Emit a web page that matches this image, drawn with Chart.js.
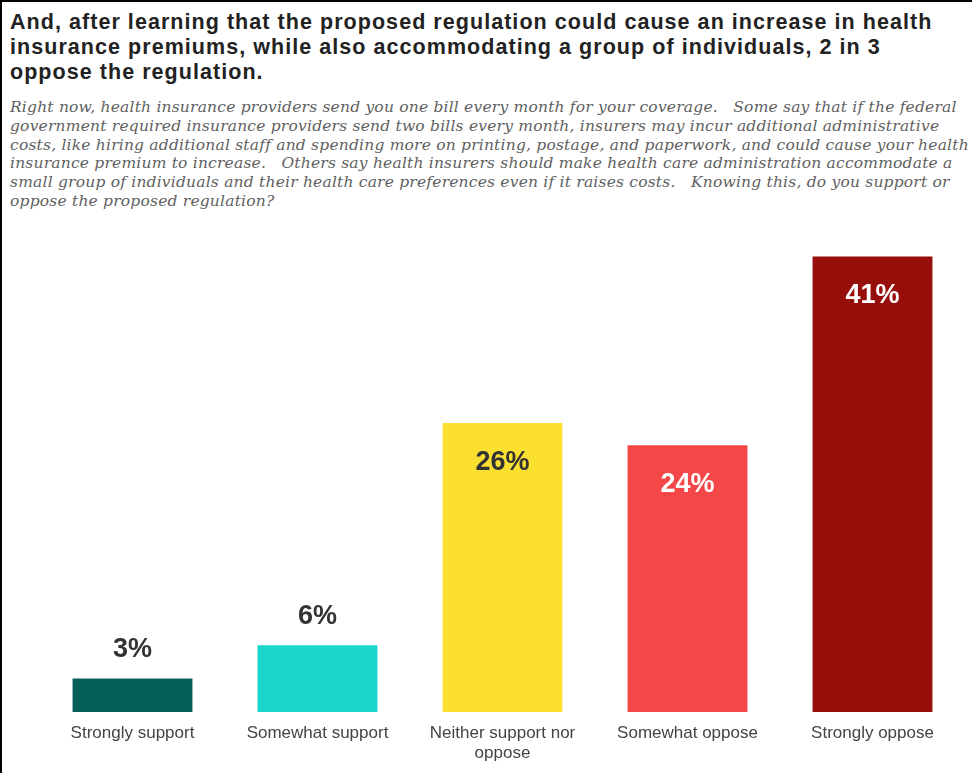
<!DOCTYPE html>
<html>
<head>
<meta charset="utf-8">
<script src="https://cdn.jsdelivr.net/npm/chart.js@4"></script>
<style>
  html, body { margin: 0; padding: 0; background: #fff; }
  #frame {
    position: relative; width: 972px; height: 773px; overflow: hidden;
    box-sizing: border-box; border-left: 2px solid #000; border-top: 2px solid #000;
  }
  #title {
    position: absolute; left: 8px; top: 8px; width: 962px; white-space: nowrap;
    font-family: "Liberation Sans", Arial, sans-serif; font-weight: bold;
    font-size: 21.5px; line-height: 25px; color: #222; letter-spacing: 1.05px;
  }
  #question {
    position: absolute; left: 8px; top: 96px; width: 962px;
    font-family: "DejaVu Serif", Georgia, serif; font-style: italic;
    font-size: 15.5px; line-height: 18.8px; color: #5f5f5f; white-space: nowrap;
    letter-spacing: 0.2px;
  }
  #chartBox { position: absolute; left: -2px; top: -2px; width: 972px; height: 785px; }
</style>
</head>
<body>
<div id="frame">
  <div id="title">And, after learning that the proposed regulation could cause an increase in health<br>insurance premiums, while also accommodating a group of individuals, 2 in 3<br>oppose the regulation.</div>
  <div id="question">Right now, health insurance providers send you one bill every month for your coverage.&nbsp;&nbsp; Some say that if the federal<br>government required insurance providers send two bills every month, insurers may incur additional administrative<br>costs, like hiring additional staff and spending more on printing, postage, and paperwork, and could cause your health<br>insurance premium to increase.&nbsp;&nbsp; Others say health insurers should make health care administration accommodate a<br>small group of individuals and their health care preferences even if it raises costs.&nbsp;&nbsp; Knowing this, do you support or<br>oppose the proposed regulation?</div>
  <div id="chartBox"><canvas id="chart"></canvas></div>
</div>
<script>
// Response categories (multi-line where the axis label wraps)
const categories = [
  ["Strongly support"],
  ["Somewhat support"],
  ["Neither support nor", "oppose"],
  ["Somewhat oppose"],
  ["Strongly oppose"]
];
// Share of respondents, percent
const shares = [3, 6, 26, 24, 41];
const barColors = ["#065f5b", "#1ad6cc", "#fbe032", "#f44848", "#960f0a"];
const labelColors = ["#333333", "#333333", "#333333", "#ffffff", "#ffffff"];

// Value labels: small bars get their label above, tall bars inside near the top
const valueLabels = {
  id: "valueLabels",
  afterDatasetsDraw(chart) {
    const ctx = chart.ctx;
    const meta = chart.getDatasetMeta(0);
    ctx.save();
    ctx.font = "bold 27px 'Liberation Sans', Arial, sans-serif";
    ctx.textAlign = "center";
    ctx.textBaseline = "middle";
    meta.data.forEach((bar, i) => {
      const v = shares[i];
      const inside = v >= 10;
      const y = inside ? bar.y + 39 : bar.y - 29;
      ctx.fillStyle = labelColors[i];
      ctx.fillText(v + "%", bar.x, y);
    });
    ctx.restore();
  }
};

new Chart(document.getElementById("chart"), {
  type: "bar",
  data: {
    labels: categories,
    datasets: [{
      data: shares,
      backgroundColor: barColors,
      borderWidth: 0,
      categoryPercentage: 1,
      barPercentage: 0.648
    }]
  },
  options: {
    responsive: true,
    maintainAspectRatio: false,
    animation: false,
    layout: { padding: { left: 40, right: 7, top: 212, bottom: 10 } },
    plugins: { legend: { display: false }, tooltip: { enabled: false } },
    scales: {
      x: {
        grid: { display: false, drawTicks: false },
        border: { display: false },
        ticks: {
          color: "#444",
          padding: 12,
          maxRotation: 0,
          autoSkip: false,
          font: { family: "'Liberation Sans', Arial, sans-serif", size: 17, lineHeight: 1.15 }
        }
      },
      y: { display: false, min: 0, max: 45 }
    }
  },
  plugins: [valueLabels]
});
</script>
</body>
</html>
